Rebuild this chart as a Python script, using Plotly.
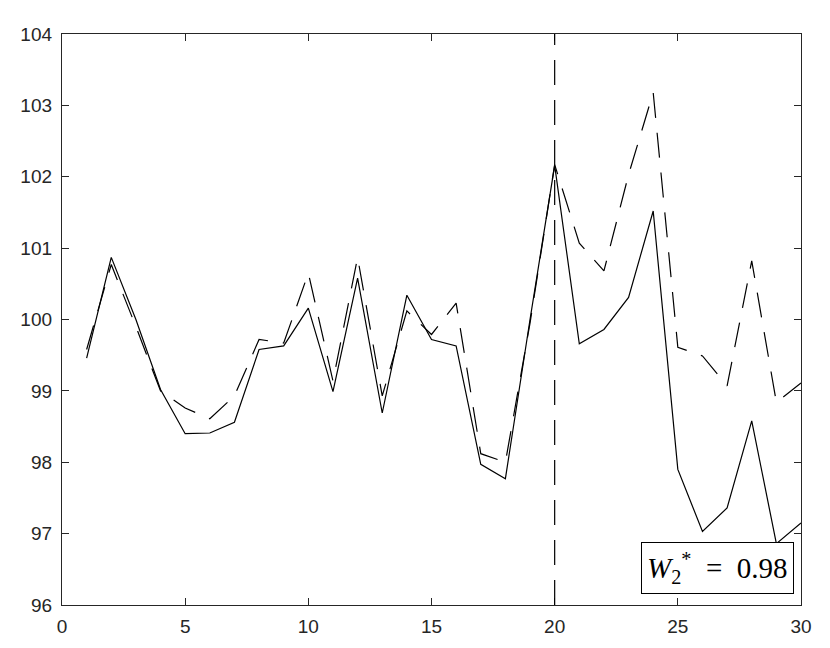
import plotly.graph_objects as go

x_vals = list(range(1, 31))
solid_vals = [99.46, 100.87, 100.0, 99.02, 98.40, 98.41, 98.56, 99.58, 99.63, 100.16,
              98.99, 100.58, 98.69, 100.34, 99.72, 99.63, 97.97, 97.77, 100.0, 102.16,
              99.66, 99.86, 100.31, 101.52, 97.90, 97.03, 97.36, 98.58, 96.86, 97.15]
dashed_vals = [99.58, 100.77, 99.9, 99.0, 98.76, 98.61, 98.93, 99.72, 99.67, 100.65,
               99.14, 100.87, 98.93, 100.12, 99.79, 100.23, 98.12, 98.0, 99.95, 102.17,
               101.07, 100.68, 102.03, 103.18, 99.61, 99.49, 99.07, 100.82, 98.84, 99.11]
vline_x = 20
x_ticks = [0, 5, 10, 15, 20, 25, 30]
y_ticks = [96, 97, 98, 99, 100, 101, 102, 103, 104]
label_text = "<i>W</i><sub>2</sub><sup>*</sup>&nbsp;&nbsp;=&nbsp;&nbsp;0.98"

DASH = "25px,15px"

fig = go.Figure()
fig.add_trace(go.Scatter(x=x_vals, y=solid_vals, mode="lines",
                         line=dict(color="black", width=1.2), showlegend=False))
fig.add_trace(go.Scatter(x=x_vals, y=dashed_vals, mode="lines",
                         line=dict(color="black", width=1.2, dash=DASH), showlegend=False))
fig.add_shape(type="line", xref="x", yref="paper", x0=vline_x, x1=vline_x, y0=0, y1=1,
              line=dict(color="black", width=1.2, dash=DASH))

fig.add_annotation(xref="paper", yref="paper", x=0.9906, y=0.0193,
                   xanchor="right", yanchor="bottom", text=label_text, showarrow=False,
                   font=dict(family="Liberation Serif", size=29, color="black"),
                   bgcolor="white", bordercolor="black", borderwidth=1, borderpad=5)

axis_common = dict(showgrid=False, zeroline=False, showline=True, linecolor="#262626",
                   linewidth=1.3, mirror="ticks", ticks="inside", ticklen=7,
                   tickcolor="#262626", tickwidth=1,
                   tickfont=dict(family="Liberation Sans", size=19, color="#262626"))

fig.update_xaxes(range=[0, 30], tickvals=x_ticks, ticklabelstandoff=4, **axis_common)
fig.update_yaxes(range=[96, 104], tickvals=y_ticks, ticklabelstandoff=5, **axis_common)

fig.update_layout(width=830, height=648, plot_bgcolor="white", paper_bgcolor="white",
                  margin=dict(l=51, r=37, t=26, b=51))

fig.write_html("out.html")
